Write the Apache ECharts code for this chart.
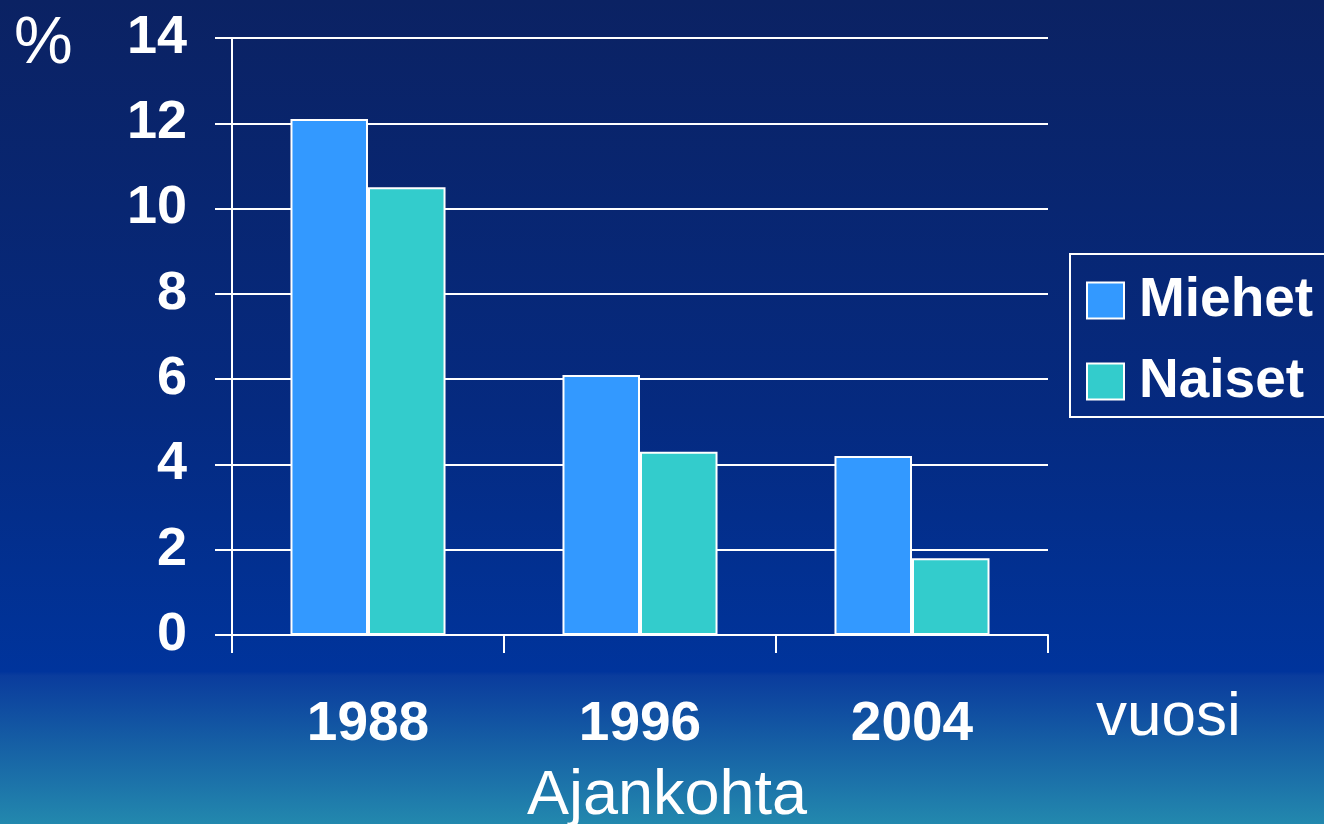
<!DOCTYPE html>
<html>
<head>
<meta charset="utf-8">
<script src="https://cdn.jsdelivr.net/npm/echarts@6/dist/echarts.min.js"></script>
<style>
  html, body { margin: 0; padding: 0; }
  #chart { width: 1324px; height: 824px; }
</style>
</head>
<body>
<div id="chart"></div>
<script>
// Share (%) by survey year
const years = ['1988', '1996', '2004'];
const miehet = [12.1, 6.1, 4.2];
const naiset = [10.5, 4.3, 1.8];
const yTicks = { min: 0, max: 14, interval: 2 };

const FONT = '"Liberation Sans", Arial, sans-serif';
const WHITE = '#ffffff';

const chart = echarts.init(document.getElementById('chart'));
chart.setOption({
  backgroundColor: {
    type: 'linear', x: 0, y: 0, x2: 0, y2: 1,
    colorStops: [
      { offset: 0, color: '#0b2263' },
      { offset: 0.5, color: '#052a80' },
      { offset: 0.815, color: '#00349c' },
      { offset: 0.82, color: '#0a3c9d' },
      { offset: 1, color: '#2388ae' }
    ]
  },
  animation: false,
  textStyle: { fontFamily: FONT },
  grid: { left: 232, right: 276, top: 38, bottom: 189, containLabel: false, outerBoundsMode: 'none' },
  legend: {
    orient: 'vertical',
    left: 1070,
    top: 254,
    padding: [19, 40, 8, 16],
    itemGap: 26,
    itemWidth: 37,
    itemHeight: 36,
    icon: 'rect',
    borderColor: WHITE,
    borderWidth: 2,
    textStyle: { color: WHITE, fontSize: 55, fontWeight: 'bold', fontFamily: FONT, padding: [0, 0, 0, 10] },
    data: ['Miehet', 'Naiset']
  },
  xAxis: {
    type: 'category',
    data: years,
    name: 'Ajankohta',
    nameLocation: 'middle',
    nameGap: 130,
    nameTextStyle: { color: WHITE, fontSize: 63, fontFamily: FONT, padding: [0, 0, 0, 54] },
    axisLine: { lineStyle: { color: WHITE, width: 2 } },
    axisTick: { show: true, length: 18, lineStyle: { color: WHITE, width: 2 } },
    axisLabel: { color: WHITE, fontSize: 55, fontWeight: 'bold', margin: 62, fontFamily: FONT }
  },
  yAxis: {
    type: 'value',
    min: yTicks.min,
    max: yTicks.max,
    interval: yTicks.interval,
    axisLine: { show: true, lineStyle: { color: WHITE, width: 2 } },
    axisTick: { show: true, length: 17, lineStyle: { color: WHITE, width: 2 } },
    axisLabel: { color: WHITE, fontSize: 54, fontWeight: 'bold', margin: 45, fontFamily: FONT, padding: [8, 0, 0, 0] },
    splitLine: { show: true, lineStyle: { color: WHITE, width: 2 } }
  },
  series: [
    {
      name: 'Miehet',
      type: 'bar',
      data: miehet,
      barGap: '0%',
      barCategoryGap: '43%',
      itemStyle: { color: '#3399ff', borderColor: WHITE, borderWidth: 2 }
    },
    {
      name: 'Naiset',
      type: 'bar',
      data: naiset,
      itemStyle: { color: '#33cccc', borderColor: WHITE, borderWidth: 2 }
    }
  ],
  graphic: [
    {
      type: 'text', left: 14, top: 12,
      style: { text: '%', fill: WHITE, font: '66px ' + FONT }
    },
    {
      type: 'text', left: 1096, top: 687,
      style: { text: 'vuosi', fill: WHITE, font: '62px ' + FONT }
    }
  ]
});
</script>
</body>
</html>
